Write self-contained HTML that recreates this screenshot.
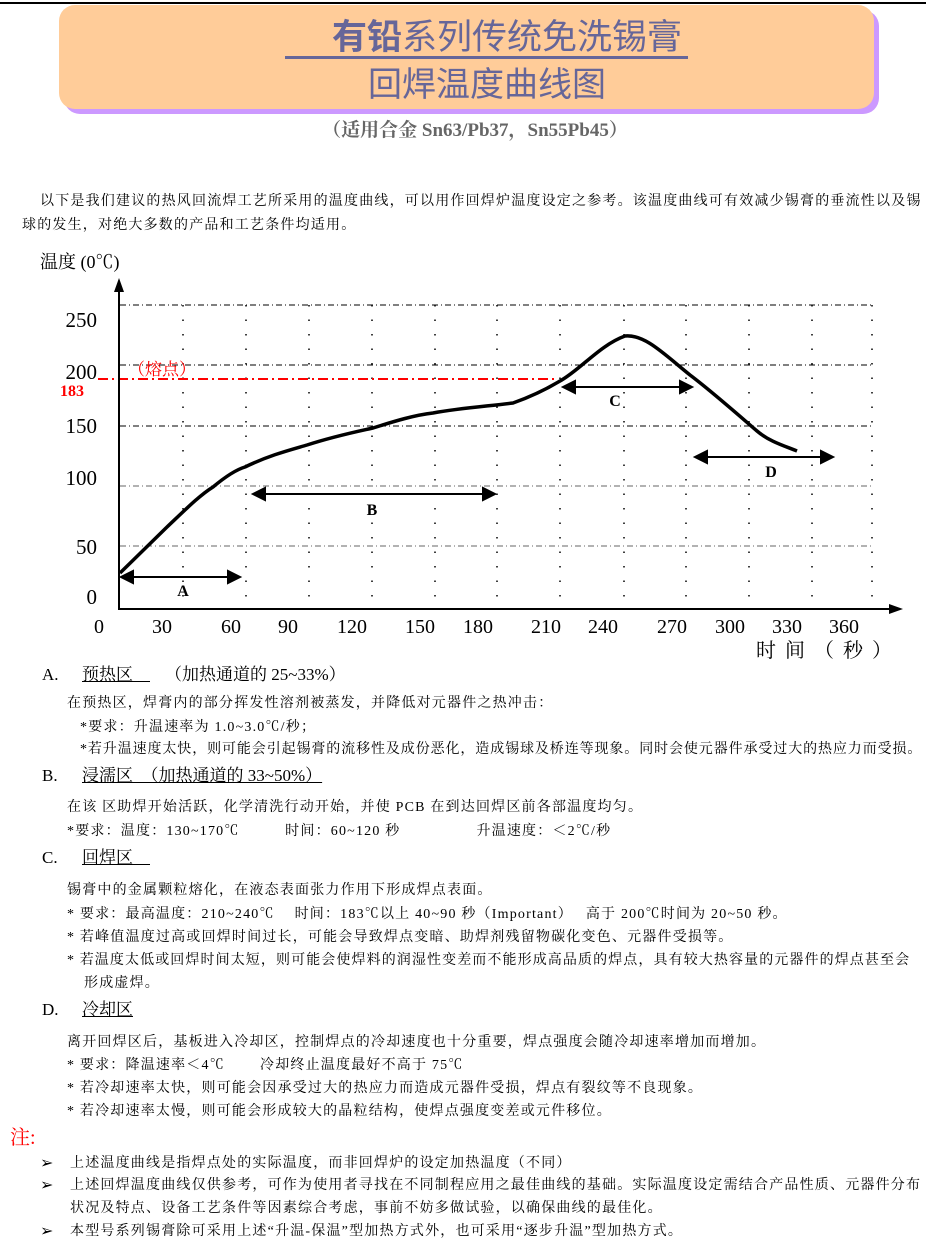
<!DOCTYPE html>
<html><head><meta charset="utf-8"><style>
body{margin:0;width:940px;height:1260px;background:#fff;position:relative;overflow:hidden;font-family:"Liberation Serif","Noto Serif CJK SC",serif;color:#000}
.t{position:absolute;white-space:nowrap;font-size:14px;letter-spacing:1.2px;line-height:16px}
.h{position:absolute;white-space:nowrap;font-size:17px;line-height:20px}
.u{text-decoration:underline}
</style></head><body>
<div style="position:absolute;left:0;top:2px;width:926px;height:2px;background:#000"></div>
<div style="position:absolute;left:64px;top:10px;width:815px;height:104px;background:#cc99ff;border-radius:16px"></div>
<div style="position:absolute;left:59px;top:5px;width:815px;height:104px;background:#ffcc99;border-radius:16px"></div>
<div style="position:absolute;left:285px;top:56px;width:403px;height:3px;background:#666699"></div>
<div style="position:absolute;left:332px;top:18px;font-family:'Liberation Sans','Noto Sans CJK SC',sans-serif;font-size:35px;line-height:40px;color:#666699;white-space:nowrap"><b>有铅</b>系列传统免洗锡膏</div>
<div style="position:absolute;left:287px;top:64px;width:400px;text-align:center;font-family:'Liberation Sans','Noto Sans CJK SC',sans-serif;font-size:34px;line-height:42px;color:#666699">回焊温度曲线图</div>
<div style="position:absolute;left:170px;top:119px;width:610px;text-align:center;font-size:19px;line-height:24px;color:#666;font-weight:bold">（适用合金 Sn63/Pb37，Sn55Pb45）</div>

<div class="t" style="left:40px;top:194px">以下是我们建议的热风回流焊工艺所采用的温度曲线，可以用作回焊炉温度设定之参考。该温度曲线可有效减少锡膏的垂流性以及锡</div>
<div class="t" style="left:22px;top:218px">球的发生，对绝大多数的产品和工艺条件均适用。</div>

<svg style="position:absolute;left:0;top:0" width="940" height="670">
<g stroke="#000" stroke-width="1" stroke-dasharray="6,3,1,3" fill="none">
<line x1="120" y1="305" x2="872" y2="305"/><line x1="120" y1="365" x2="872" y2="365"/><line x1="120" y1="426" x2="872" y2="426"/>
<line x1="120" y1="486" x2="872" y2="486" stroke="#666"/><line x1="120" y1="546" x2="872" y2="546" stroke="#666"/>
</g>
<g stroke="#000" stroke-width="1.5" stroke-dasharray="1.5,13" fill="none">
<line x1="183" y1="305" x2="183" y2="608"/><line x1="246" y1="305" x2="246" y2="608"/><line x1="309" y1="305" x2="309" y2="608"/><line x1="372" y1="305" x2="372" y2="608"/><line x1="435" y1="305" x2="435" y2="608"/><line x1="497" y1="305" x2="497" y2="608"/><line x1="560" y1="305" x2="560" y2="608"/><line x1="624" y1="305" x2="624" y2="608"/><line x1="686" y1="305" x2="686" y2="608"/><line x1="749" y1="305" x2="749" y2="608"/><line x1="812" y1="305" x2="812" y2="608"/><line x1="872" y1="305" x2="872" y2="608"/>
</g>
<line x1="98" y1="379" x2="555" y2="379" stroke="#f00" stroke-width="2" stroke-dasharray="10,4,2,4"/>
<line x1="119" y1="290" x2="119" y2="610" stroke="#000" stroke-width="2"/>
<polygon points="119,278 114,292 124,292" fill="#000"/>
<line x1="119" y1="609" x2="890" y2="609" stroke="#000" stroke-width="2"/>
<polygon points="903,609 889,604 889,614" fill="#000"/>
<path d="M120,573 L167,527 C185,510 200,495 213,487 C225,477 235,470 245,467 C270,455 290,450 307,445 C335,436 355,432 373,428 C395,421 415,415 433,413 C460,408 490,406 513,403 C530,397 545,390 560,381 C580,370 600,345 625,336 C645,334 665,355 690,375 C710,390 735,412 757,431 C770,442 785,446 797,451" fill="none" stroke="#000" stroke-width="3.5"/>
<g stroke="#000" stroke-width="2" fill="#000">
<line x1="130" y1="577" x2="230" y2="577"/><polygon points="121,577 133,571 133,583"/><polygon points="240,577 228,571 228,583"/>
<line x1="262" y1="494" x2="485" y2="494"/><polygon points="253,494 265,488 265,500"/><polygon points="495,494 483,488 483,500"/>
<line x1="572" y1="387" x2="682" y2="387"/><polygon points="563,387 575,381 575,393"/><polygon points="692,387 680,381 680,393"/>
<line x1="705" y1="457" x2="823" y2="457"/><polygon points="695,457 707,451 707,463"/><polygon points="833,457 821,451 821,463"/>
</g>
<g font-family="Liberation Serif,serif" font-weight="bold" font-size="16" text-anchor="middle">
<text x="183" y="596">A</text><text x="372" y="515">B</text><text x="615" y="406">C</text><text x="771" y="477">D</text>
</g>
<g font-family="Liberation Serif,serif" font-size="21" text-anchor="end">
<text x="97" y="327">250</text><text x="97" y="379">200</text><text x="97" y="433">150</text><text x="97" y="485">100</text><text x="97" y="554">50</text><text x="97" y="604">0</text>
</g>
<text x="60" y="396" font-family="Liberation Serif,serif" font-size="16" font-weight="bold" fill="#f00">183</text>
<text x="128" y="375" font-family="Liberation Serif,'Noto Serif CJK SC',serif" font-size="17" fill="#f00">（熔点）</text>
<text x="40" y="268" font-family="Liberation Serif,'Noto Serif CJK SC',serif" font-size="18">温度 (0℃)</text>
<g font-family="Liberation Serif,serif" font-size="20" text-anchor="middle">
<text x="99" y="633">0</text><text x="162" y="633">30</text><text x="231" y="633">60</text><text x="288" y="633">90</text><text x="352" y="633">120</text><text x="420" y="633">150</text><text x="478" y="633">180</text><text x="546" y="633">210</text><text x="603" y="633">240</text><text x="672" y="633">270</text><text x="730" y="633">300</text><text x="787" y="633">330</text><text x="844" y="633">360</text>
</g>
<text x="756" y="657" font-family="Liberation Serif,'Noto Serif CJK SC',serif" font-size="20" letter-spacing="9">时间（秒）</text>
</svg>

<div class="h" style="left:42px;top:665px">A.</div><div class="h u" style="left:82px;top:665px">预热区　</div><div class="h" style="left:165px;top:665px">（加热通道的 25~33%）</div>
<div class="t" style="left:67px;top:696px">在预热区，焊膏内的部分挥发性溶剂被蒸发，并降低对元器件之热冲击：</div>
<div class="t" style="left:80px;top:720px">*要求：升温速率为 1.0~3.0℃/秒；</div>
<div class="t" style="left:80px;top:742px;letter-spacing:0.9px">*若升温速度太快，则可能会引起锡膏的流移性及成份恶化，造成锡球及桥连等现象。同时会使元器件承受过大的热应力而受损。</div>
<div class="h" style="left:42px;top:766px">B.</div><div class="h u" style="left:82px;top:766px">浸濡区　（加热通道的 33~50%）</div>
<div class="t" style="left:67px;top:800px">在该 区助焊开始活跃，化学清洗行动开始，并使 PCB 在到达回焊区前各部温度均匀。</div>
<div class="t" style="left:67px;top:824px">*要求：温度：130~170℃　　　时间：60~120 秒　　　　　升温速度：＜2℃/秒</div>
<div class="h" style="left:42px;top:848px">C.</div><div class="h u" style="left:82px;top:848px">回焊区　</div>
<div class="t" style="left:67px;top:883px">锡膏中的金属颗粒熔化，在液态表面张力作用下形成焊点表面。</div>
<div class="t" style="left:67px;top:907px">* 要求：最高温度：210~240℃　 时间：183℃以上 40~90 秒（Important）　 高于 200℃时间为 20~50 秒。</div>
<div class="t" style="left:67px;top:930px">* 若峰值温度过高或回焊时间过长，可能会导致焊点变暗、助焊剂残留物碳化变色、元器件受损等。</div>
<div class="t" style="left:67px;top:953px;letter-spacing:1.1px">* 若温度太低或回焊时间太短，则可能会使焊料的润湿性变差而不能形成高品质的焊点，具有较大热容量的元器件的焊点甚至会</div>
<div class="t" style="left:84px;top:976px">形成虚焊。</div>
<div class="h" style="left:42px;top:1000px">D.</div><div class="h u" style="left:82px;top:1000px">冷却区</div>
<div class="t" style="left:67px;top:1035px">离开回焊区后，基板进入冷却区，控制焊点的冷却速度也十分重要，焊点强度会随冷却速率增加而增加。</div>
<div class="t" style="left:67px;top:1058px">* 要求：降温速率＜4℃　　 冷却终止温度最好不高于 75℃</div>
<div class="t" style="left:67px;top:1081px">* 若冷却速率太快，则可能会因承受过大的热应力而造成元器件受损，焊点有裂纹等不良现象。</div>
<div class="t" style="left:67px;top:1104px">* 若冷却速率太慢，则可能会形成较大的晶粒结构，使焊点强度变差或元件移位。</div>
<div class="h" style="left:10px;top:1127px;color:#f00;font-size:20px;line-height:22px">注:</div>
<div class="t" style="left:40px;top:1156px;font-size:16px">➢</div><div class="t" style="left:70px;top:1156px">上述温度曲线是指焊点处的实际温度，而非回焊炉的设定加热温度（不同）</div>
<div class="t" style="left:40px;top:1178px;font-size:16px">➢</div><div class="t" style="left:70px;top:1178px">上述回焊温度曲线仅供参考，可作为使用者寻找在不同制程应用之最佳曲线的基础。实际温度设定需结合产品性质、元器件分布</div>
<div class="t" style="left:70px;top:1201px">状况及特点、设备工艺条件等因素综合考虑，事前不妨多做试验，以确保曲线的最佳化。</div>
<div class="t" style="left:40px;top:1224px;font-size:16px">➢</div><div class="t" style="left:70px;top:1224px">本型号系列锡膏除可采用上述“升温-保温”型加热方式外，也可采用“逐步升温”型加热方式。</div>
</body></html>
